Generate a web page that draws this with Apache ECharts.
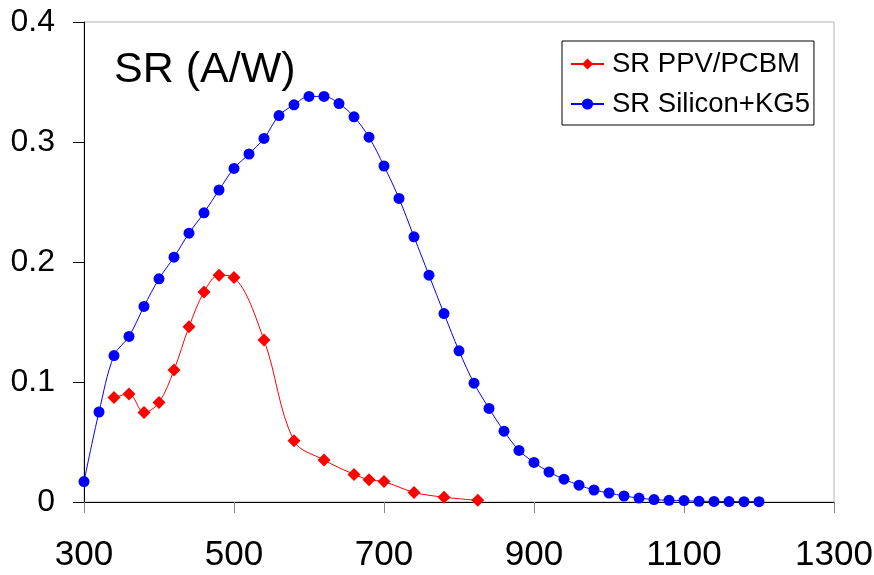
<!DOCTYPE html>
<html>
<head>
<meta charset="utf-8">
<script src="https://cdn.jsdelivr.net/npm/echarts@6/dist/echarts.min.js"></script>
<style>
  html, body { margin: 0; padding: 0; background: #fff; }
  #chart { width: 874px; height: 575px; }
</style>
</head>
<body>
<div id="chart"></div>
<script>
// wavelength (nm) and spectral response (A/W)
const redName = 'SR PPV/PCBM';
const redX = [340, 360, 380, 400, 420, 440, 460, 480, 500, 540, 580, 620, 660, 680, 700, 740, 780, 825];
const redY = [0.087, 0.090, 0.0745, 0.083, 0.110, 0.146, 0.175, 0.189, 0.187, 0.135, 0.051, 0.035, 0.023, 0.0186, 0.017, 0.008, 0.004, 0.0014];

const blueName = 'SR Silicon+KG5';
const blueX = [300, 320, 340, 360, 380, 400, 420, 440, 460, 480,
  500, 520, 540, 560, 580, 600, 620, 640, 660, 680,
  700, 720, 740, 760, 780, 800, 820, 840, 860, 880,
  900, 920, 940, 960, 980, 1000, 1020, 1040, 1060, 1080,
  1100, 1120, 1140, 1160, 1180, 1200];
const blueY = [0.017, 0.075, 0.122, 0.138, 0.163, 0.186, 0.204, 0.224, 0.241, 0.260,
  0.278, 0.290, 0.303, 0.322, 0.331, 0.338, 0.338, 0.332, 0.321, 0.304,
  0.280, 0.253, 0.221, 0.189, 0.157, 0.126, 0.099, 0.078, 0.059, 0.043,
  0.033, 0.025, 0.019, 0.014, 0.010, 0.0075, 0.005, 0.0033, 0.002, 0.0014,
  0.0012, 0.0006, 0.0005, 0.0004, 0.0003, 0.0003];

const xTicks = [300, 500, 700, 900, 1100, 1300];
const yTicks = [0, 0.1, 0.2, 0.3, 0.4];

const font = "'Liberation Sans', Arial, sans-serif";
const pairs = (xs, ys) => xs.map((x, i) => [x, ys[i]]);

const chart = echarts.init(document.getElementById('chart'));

chart.setOption({
    animation: false,
    backgroundColor: '#fff',
    title: {
        text: 'SR (A/W)',
        left: 109,
        top: 44,
        textStyle: { fontFamily: font, fontSize: 43, fontWeight: 'normal', color: '#000' }
    },
    legend: {
        orient: 'vertical',
        left: 562,
        top: 41,
        padding: [9, 4, 7, 8],
        itemGap: 12,
        itemWidth: 33,
        itemHeight: 14,
        borderColor: '#000',
        borderWidth: 1,
        textStyle: { fontFamily: font, fontSize: 27.5, lineHeight: 27, color: '#000', padding: [0, 0, 0, 3] },
        data: [redName, blueName]
    },
    grid: {
        left: 84,
        right: 40,
        top: 22,
        bottom: 73,
        outerBoundsMode: 'none',
        show: true,
        borderColor: '#b0b0b0',
        borderWidth: 1
    },
    xAxis: {
        type: 'value',
        min: xTicks[0],
        max: xTicks[xTicks.length - 1],
        interval: 200,
        axisLine: { lineStyle: { color: '#000', width: 1 } },
        axisTick: { show: true, inside: false, length: 11, lineStyle: { color: '#888' } },
        splitLine: { show: false },
        axisLabel: { margin: 36, fontFamily: font, fontSize: 35, color: '#000', formatter: v => String(v) }
    },
    yAxis: {
        type: 'value',
        min: yTicks[0],
        max: yTicks[yTicks.length - 1],
        interval: 0.1,
        axisLine: { show: true, lineStyle: { color: '#000', width: 1 } },
        axisTick: { show: true, inside: false, length: 11, lineStyle: { color: '#000' } },
        splitLine: { show: false },
        axisLabel: { margin: 29, fontFamily: font, fontSize: 32, color: '#000' }
    },
    series: [
        {
            name: redName,
            type: 'line',
            data: pairs(redX, redY),
            smooth: 0.35,
            symbol: 'diamond',
            symbolSize: 13,
            itemStyle: { color: '#ff0000' },
            lineStyle: { color: '#ff0000', width: 1 },
            z: 2
        },
        {
            name: blueName,
            type: 'line',
            data: pairs(blueX, blueY),
            smooth: 0.35,
            symbol: 'circle',
            symbolSize: 11,
            itemStyle: { color: '#0000ff' },
            lineStyle: { color: '#0000ff', width: 1 },
            z: 3
        }
    ]
});
</script>
</body>
</html>
